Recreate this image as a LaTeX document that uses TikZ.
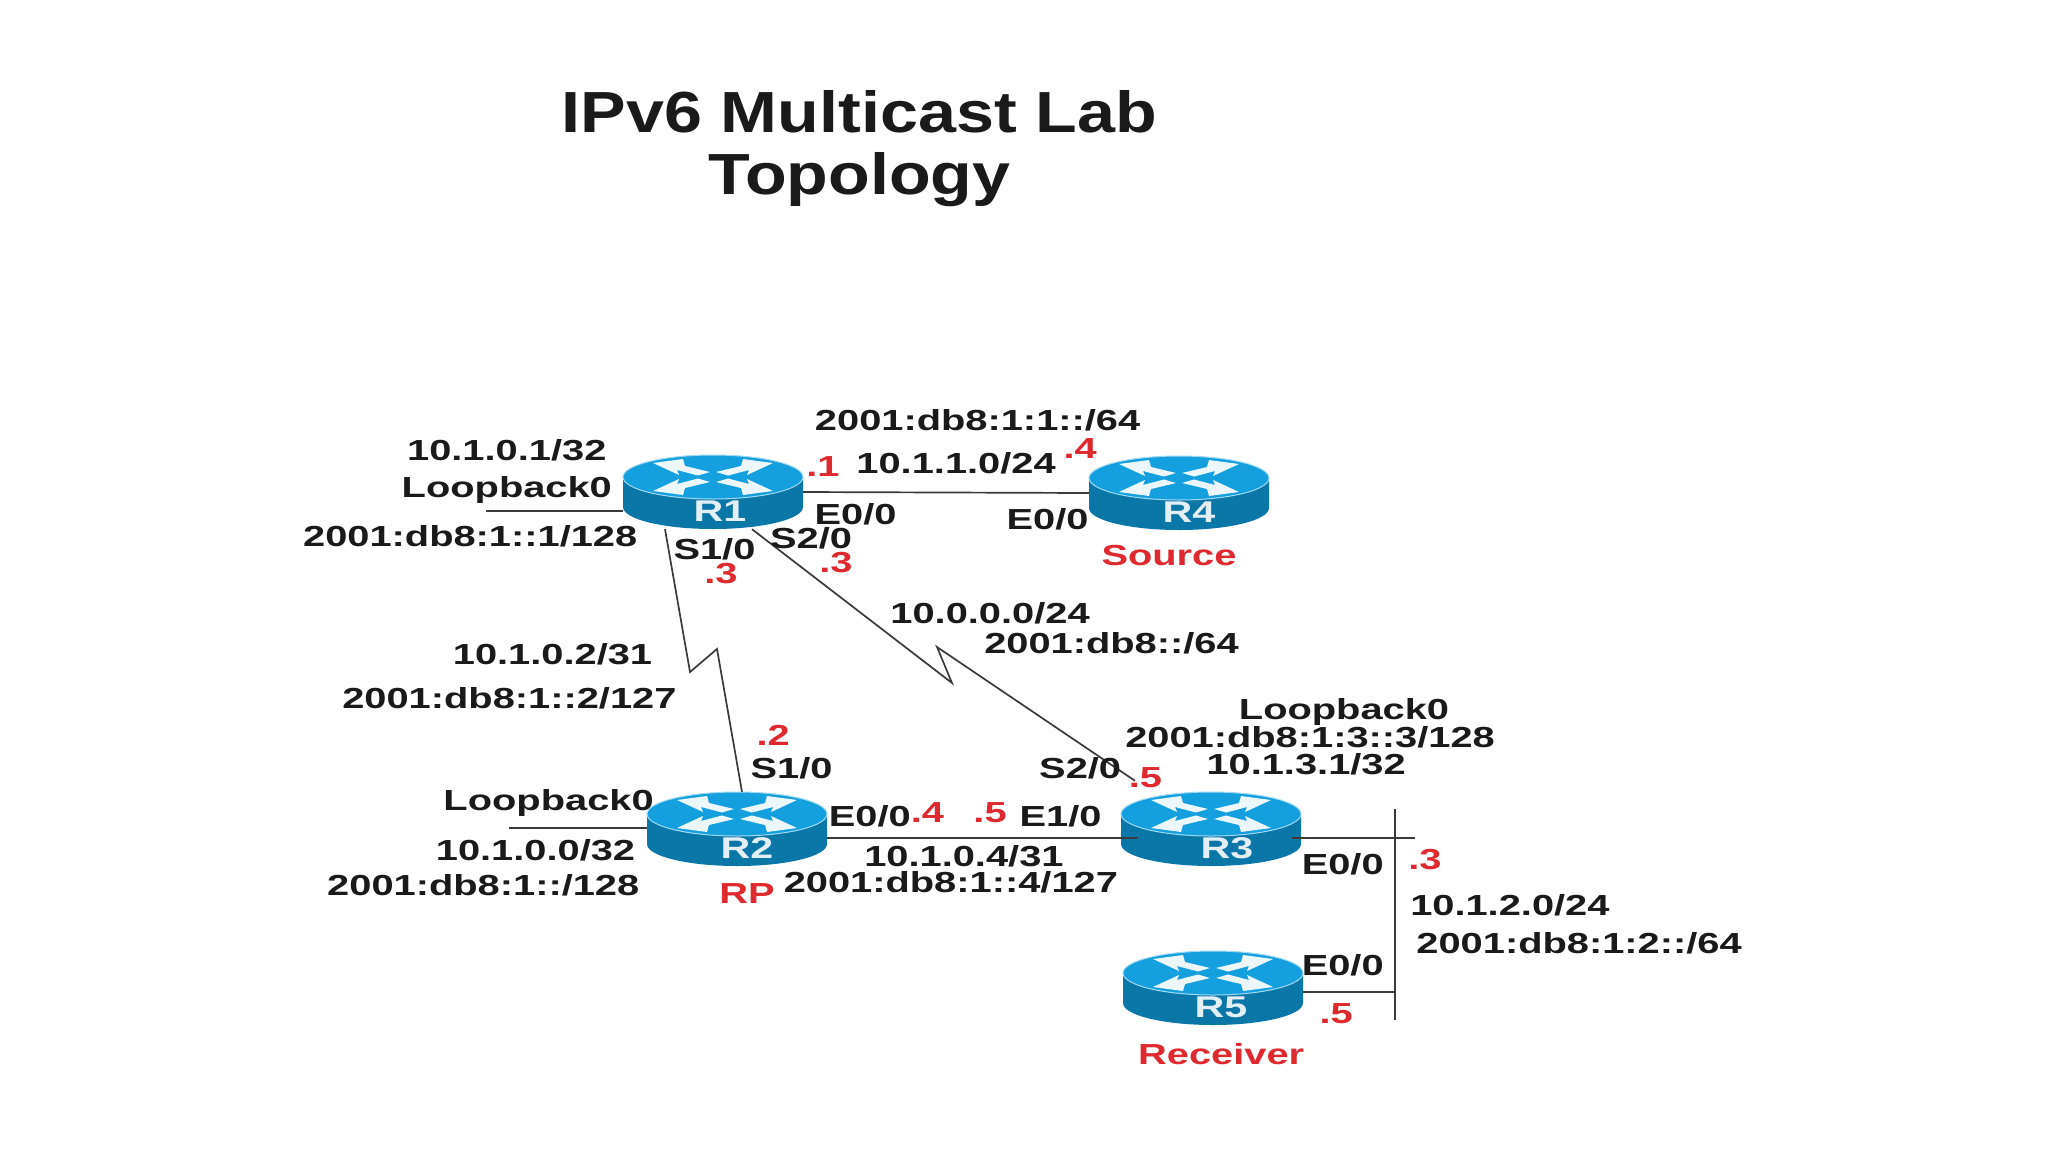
\documentclass[tikz,border=0pt]{standalone}
\usepackage{fontspec}
\setmainfont{Liberation Sans}[FakeStretch=1.373]
\newfontfamily\ttlfont{Liberation Sans}[FakeStretch=1.177]
\usetikzlibrary{calc}
\definecolor{rtop}{HTML}{14A0DF}
\definecolor{rbody}{HTML}{0B76A8}
\definecolor{redlab}{HTML}{DE2A2E}
\definecolor{inkc}{HTML}{1A1A1A}
\definecolor{linec}{HTML}{3A3A3A}
\tikzset{
  lab/.style={font=\fontsize{29}{31}\selectfont\bfseries,text=inkc,inner sep=0pt,text height=20pt,text depth=0pt,anchor=center},
  redt/.style={lab,text=redlab},
  ttl/.style={font=\ttlfont\fontsize{58}{60}\selectfont\bfseries,text=inkc,inner sep=0pt,text height=42pt,text depth=0pt,anchor=center},
  rlab/.style={font=\fontsize{30}{32}\selectfont\bfseries,text=white!88!rbody,inner sep=0pt,text height=21pt,text depth=0pt,anchor=center},
  rbox/.style={minimum width=180pt,minimum height=74pt,inner sep=0pt,draw=none},
  wire/.style={draw=linec,line width=1.7pt,line join=miter},
}
\newcommand{\routerbody}[5]{%
  \begin{scope}[shift={(#2,#3)}]
    \fill[rbody] (-90,-15) -- (-90,15) arc[start angle=180,end angle=0,x radius=90,y radius=22] -- (90,-15) -- cycle;
    \fill[rtop,draw=white!60!rtop,line width=1pt] (0,-15) ellipse[x radius=90,y radius=22];
    \foreach \sx/\sy in {1/1,-1/1,1/-1,-1/-1}{
      \begin{scope}[shift={(0,-15)},xscale=\sx,yscale=\sy]
        \fill[white!92!rtop] (-60,-14) -- (-30,-18) -- (-28,-11) -- (-3,-5) -- (-15,-1.5) -- (-36,-7) -- (-34,-2) -- cycle;
      \end{scope}
    }
  \end{scope}
  \node[rbox] (#1) at (#2,#3) {};
  \node[rlab] (#1lab) at ($(#2,#3)+(#5,19)$) {#4};
}
\begin{document}
\begin{tikzpicture}[x=1pt,y=-1pt]
\useasboundingbox (0,0) rectangle (2048,1152);
\fill[white] (0,0) rectangle (2048,1152);
\routerbody{rone}{713}{492}{R1}{7}
\routerbody{rfour}{1179}{493}{R4}{10}
\routerbody{rtwo}{737}{829}{R2}{10}
\routerbody{rthree}{1211}{829}{R3}{16}
\routerbody{rfive}{1213}{988}{R5}{8}
% free ends
\coordinate (loopa) at (486,511);
\coordinate (loopb) at (509,828);
\coordinate (busT) at (1395,809);
\coordinate (busB) at (1395,1020);
\coordinate (busX) at (1415,838);
\coordinate (rthreeL) at (1138,838);
\coordinate (rthreeR) at (1292,838);
% connectors
\draw[wire] (rone.east) -- (rfour.west);
\draw[wire] (loopa) -- (rone.west |- loopa);
\draw[wire] (loopb) -- (rtwo.west |- loopb);
\draw[wire] ([xshift=-48pt]rone.south) -- (690,672) -- (717,649) -- ([xshift=5pt]rtwo.north);
\draw[wire] ([xshift=39pt]rone.south) -- (952,683) -- (937,647) -- ([xshift=-76pt,yshift=11pt]rthree.north);
\draw[wire] (rtwo.east |- rthreeL) -- (rthreeL);
\draw[wire] (rthreeR) -- (busX);
\draw[wire] (busT) -- (busB);
\draw[wire] (rfive.east |- 0,992) -- (busB |- 0,992);
% labels, in 1568-wide coordinates
\begin{scope}[x=1.30612pt,y=-1.30612pt]
\node[ttl] (title1) at (658,85) {IPv6 Multicast Lab};
\node[ttl] (title2) at (658,133) {Topology};
\node[lab] (a1) at (748.5,322) {2001:db8:1:1::/64};
\node[lab] (a2) at (732,355) {10.1.1.0/24};
\node[redt] (a3) at (827,343) {.4};
\node[redt] (a4) at (630,357) {.1};
\node[lab] (a5) at (388,345) {10.1.0.1/32};
\node[lab] (a6) at (388,373) {Loopback0};
\node[lab] (a7) at (360,411) {2001:db8:1::1/128};
\node[lab] (a8) at (655,394) {E0/0};
\node[lab] (a9) at (802,398) {E0/0};
\node[lab] (a10) at (621,412) {S2/0};
\node[lab] (a11) at (547,421) {S1/0};
\node[redt] (a12) at (552,439) {.3};
\node[redt] (a13) at (640,431) {.3};
\node[redt] (a14) at (895,425) {Source};
\node[lab] (a15) at (758,470) {10.0.0.0/24};
\node[lab] (a16) at (851,493) {2001:db8::/64};
\node[lab] (a17) at (423,501) {10.1.0.2/31};
\node[lab] (a18) at (390,535) {2001:db8:1::2/127};
\node[redt] (a19) at (592,563) {.2};
\node[lab] (a20) at (606,588) {S1/0};
\node[lab] (a21) at (1029,543) {Loopback0};
\node[lab] (a22) at (1003,565) {2001:db8:1:3::3/128};
\node[lab] (a23) at (1000,585) {10.1.3.1/32};
\node[lab] (a24) at (827,588) {S2/0};
\node[redt] (a25) at (877,595) {.5};
\node[lab] (a26) at (420,613) {Loopback0};
\node[lab] (a27) at (666,625) {E0/0};
\node[redt] (a28) at (710,622) {.4};
\node[redt] (a29) at (758,622) {.5};
\node[lab] (a30) at (812,625) {E1/0};
\node[lab] (a31) at (738,656) {10.1.0.4/31};
\node[lab] (a32) at (728,676) {2001:db8:1::4/127};
\node[lab] (a33) at (410,651) {10.1.0.0/32};
\node[lab] (a34) at (370,678) {2001:db8:1::/128};
\node[redt] (a35) at (572,684) {RP};
\node[lab] (a36) at (1028,662) {E0/0};
\node[redt] (a37) at (1091,658) {.3};
\node[lab] (a38) at (1156,693) {10.1.2.0/24};
\node[lab] (a39) at (1209,722) {2001:db8:1:2::/64};
\node[lab] (a40) at (1028,739) {E0/0};
\node[redt] (a41) at (1023,776) {.5};
\node[redt] (a42) at (935,807) {Receiver};
\end{scope}
\end{tikzpicture}
\end{document}
